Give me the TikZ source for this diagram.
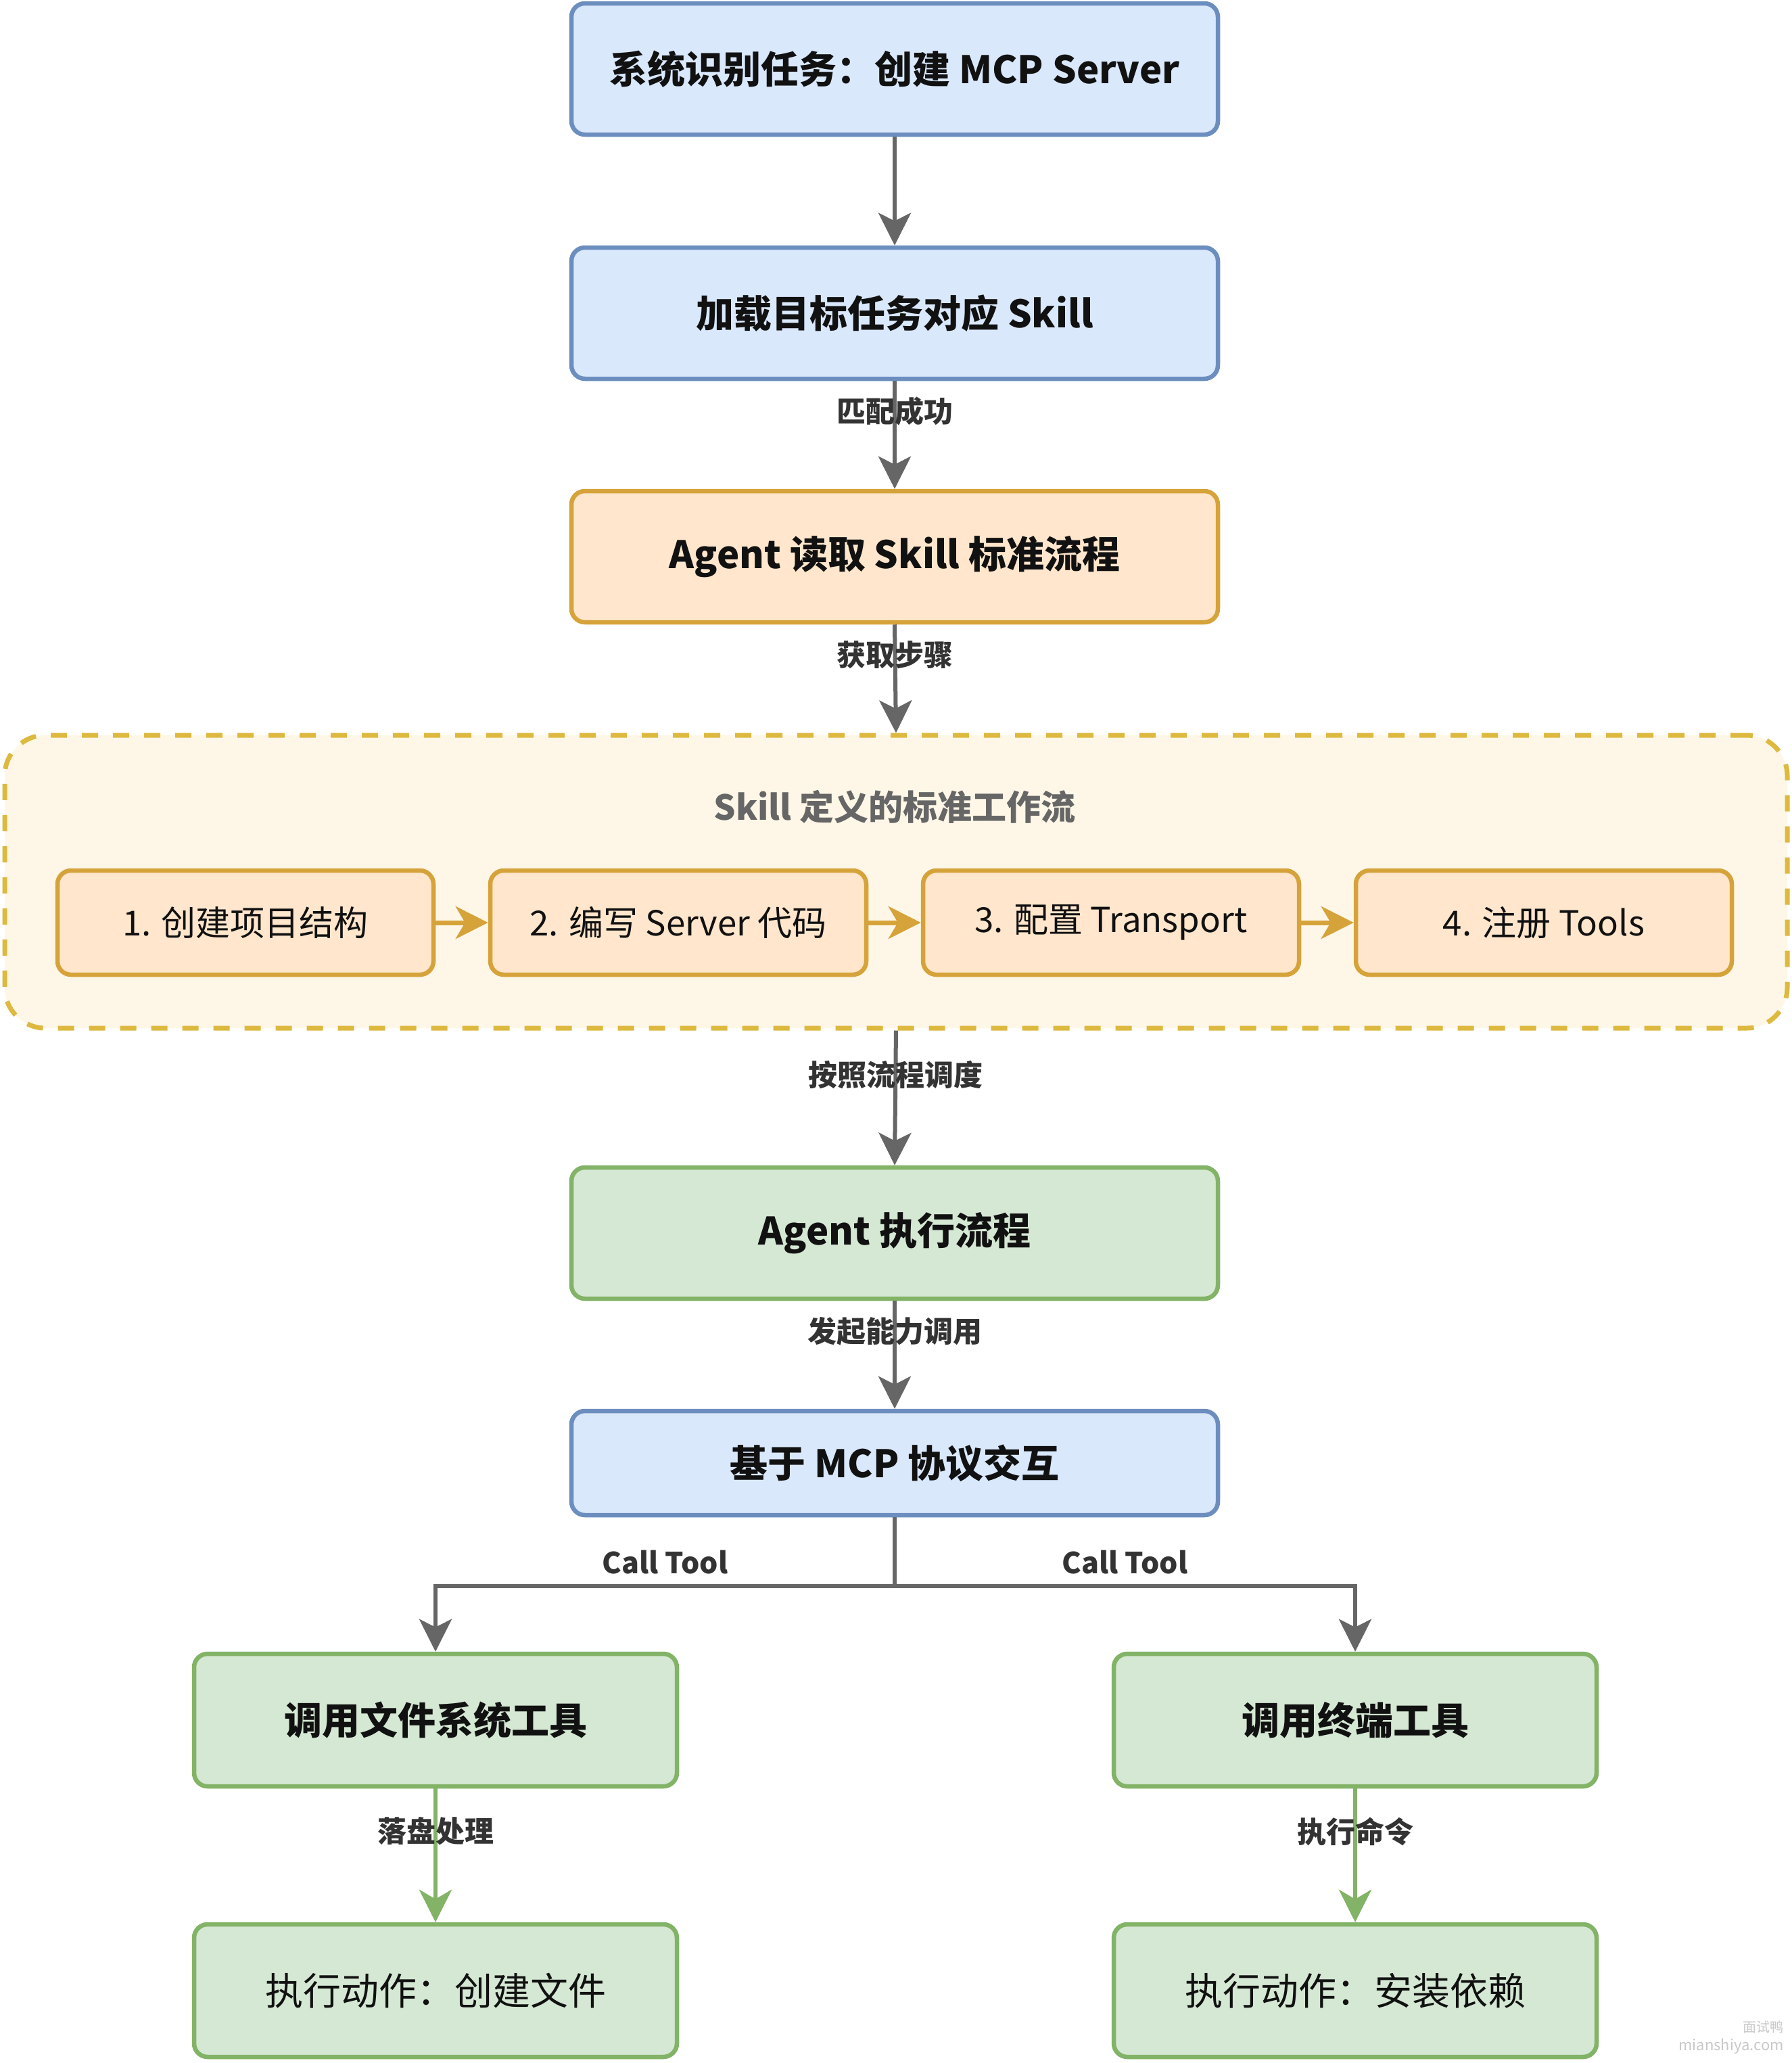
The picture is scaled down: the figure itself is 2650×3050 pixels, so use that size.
\documentclass[tikz,border=0pt]{standalone}
\usepackage{fontspec}
\setmainfont{Noto Sans CJK SC}
\usetikzlibrary{arrows.meta}
\definecolor{bluefill}{HTML}{DAE8FC}
\definecolor{bluedraw}{HTML}{6C8EBF}
\definecolor{orfill}{HTML}{FFE6CC}
\definecolor{ordraw}{HTML}{D6A33A}
\definecolor{contfill}{HTML}{FEF7E7}
\definecolor{contdraw}{HTML}{DDB93F}
\definecolor{grfill}{HTML}{D5E8D4}
\definecolor{grdraw}{HTML}{82B366}
\definecolor{arrgray}{HTML}{666666}
\definecolor{txtmain}{HTML}{111111}
\definecolor{txtlabel}{HTML}{333333}
\definecolor{txttitle}{HTML}{666666}
\definecolor{wmark}{HTML}{C8C8C8}
\tikzset{
  box/.style={rectangle, rounded corners=20pt, line width=6.5pt, inner sep=0pt,
    minimum width=956pt, minimum height=194pt, text=txtmain,
    font=\fontsize{56}{64}\selectfont\bfseries},
  bluebox/.style={box, fill=bluefill, draw=bluedraw},
  orbox/.style={box, fill=orfill, draw=ordraw},
  grbox/.style={box, fill=grfill, draw=grdraw},
  stepbox/.style={rectangle, rounded corners=20pt, line width=6.5pt, inner sep=0pt,
    minimum width=556pt, minimum height=154pt, fill=orfill, draw=ordraw,
    text=txtmain, font=\fontsize{51}{60}\selectfont},
  sidebox/.style={grbox, minimum width=714pt, minimum height=196pt},
  conn/.style={draw=arrgray, line width=6pt,
    -{Stealth[length=48pt,width=48pt,inset=12pt]}},
  stepconn/.style={draw=ordraw, line width=7pt,
    -{Stealth[length=48pt,width=48pt,inset=14pt]}},
  grconn/.style={draw=grdraw, line width=6pt,
    -{Stealth[length=48pt,width=48pt,inset=14pt]}},
  elabel/.style={text=txtlabel, inner sep=0pt,
    font=\fontsize{43}{48}\selectfont\bfseries},
}
\begin{document}
\begin{tikzpicture}[x=1pt,y=-1pt]
\useasboundingbox[fill=white] (0,0) rectangle (2650,3050);

% container
\node[rectangle, rounded corners=60pt, line width=7pt, draw=contdraw, fill=contfill,
  dash pattern=on 24pt off 22pt, minimum width=2636pt, minimum height=433pt, inner sep=0pt]
  (cont) at (1325,1303.5) {};
\node[text=txttitle, font=\fontsize{51}{60}\selectfont\bfseries] (ctitle) at (1323,1193) {Skill 定义的标准工作流};

\node[bluebox] (b1) at (1323,102) {系统识别任务：创建 MCP Server};
\node[bluebox] (b2) at (1323,463) {加载目标任务对应 Skill};
\node[orbox]   (b3) at (1323,823) {Agent 读取 Skill 标准流程};

\node[stepbox] (s1) at (363,1364)  {1. 创建项目结构};
\node[stepbox] (s2) at (1003,1364) {2. 编写 Server 代码};
\node[stepbox] (s3) at (1643,1364) {3. 配置 Transport};
\node[stepbox] (s4) at (2283,1364) {4. 注册 Tools};

\node[grbox]   (b4) at (1323,1823) {Agent 执行流程};
\node[bluebox, minimum height=154pt] (b5) at (1323,2163) {基于 MCP 协议交互};

\node[sidebox] (l1) at (644,2543)  {调用文件系统工具};
\node[sidebox] (r1) at (2004,2543) {调用终端工具};
\node[sidebox, font=\fontsize{56}{64}\selectfont] (l2) at (644,2943)  {执行动作：创建文件};
\node[sidebox, font=\fontsize{56}{64}\selectfont] (r2) at (2004,2943) {执行动作：安装依赖};

% connectors
\draw[conn] (b1.south) -- (b2.north);
\draw[conn] (b2.south) -- node[elabel, pos=0.28] (lab1) {匹配成功} (b3.north);
\draw[conn] (b3.south) -- node[elabel, pos=0.28] (lab2) {获取步骤} (cont.north);
\draw[stepconn] (s1.east) -- (s2.west);
\draw[stepconn] (s2.east) -- (s3.west);
\draw[stepconn] (s3.east) -- (s4.west);
\draw[conn] (cont.south) -- node[elabel, pos=0.33] (lab3) {按照流程调度} (b4.north);
\draw[conn] (b4.south) -- node[elabel, pos=0.28] (lab4) {发起能力调用} (b5.north);

\coordinate (split) at (1323,2345);
\draw[draw=arrgray, line width=6pt] (b5.south) -- (split);
\draw[conn] (split) -| node[elabel, pos=0.25, yshift=35pt] (lab5) {Call Tool} (l1.north);
\draw[conn] (split) -| node[elabel, pos=0.25, yshift=35pt] (lab6) {Call Tool} (r1.north);

\draw[grconn] (l1.south) -- node[elabel, pos=0.32] (lab7) {落盘处理} (l2.north);
\draw[grconn] (r1.south) -- node[elabel, pos=0.32] (lab8) {执行命令} (r2.north);

% watermark
\node[text=wmark, font=\fontsize{20}{22}\selectfont, anchor=east, inner sep=0pt] (wm1) at (2638,2997) {面试鸭};
\node[text=wmark, font=\fontsize{22}{24}\selectfont, anchor=east, inner sep=0pt] (wm2) at (2638,3025) {mianshiya.com};
\end{tikzpicture}
\end{document}
